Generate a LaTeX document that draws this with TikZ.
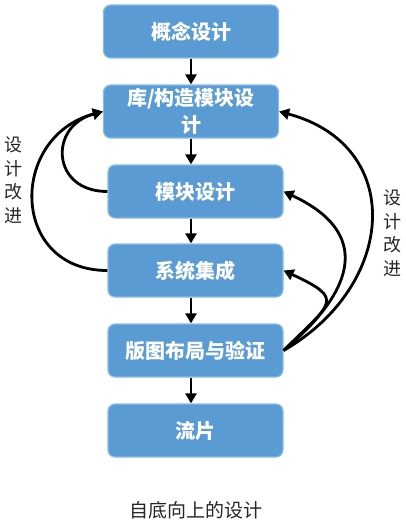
\documentclass[tikz,border=0pt]{standalone}
\usepackage{fontspec}
\setmainfont{Noto Sans CJK SC}
\usepackage{xcolor}
\usetikzlibrary{arrows.meta}
\definecolor{boxblue}{HTML}{5A9BD3}
\definecolor{boxedge}{HTML}{8CBCE6}

\begin{document}
\begin{tikzpicture}[x=1pt,y=1pt,
	blk/.style={draw=boxedge, line width=1.2pt, fill=boxblue, rounded corners=7pt,
		minimum width=175pt, minimum height=53pt, text=white, align=center,
		font=\fontsize{20}{27}\selectfont\bfseries},
	dn/.style={line width=2.8pt, -{Triangle[length=10pt,width=11pt]}},
	fb/.style={line width=2.8pt, -{Triangle[length=10pt,width=11pt]}},
	lbl/.style={align=center, text=black!85, font=\fontsize{18}{23.5}\selectfont}]
	\useasboundingbox (0,0) rectangle (405,-527);
	
	\node[blk] (concept) at (191,-31.5) {概念设计};
	\node[blk] (lib) at (191,-111.5) {库/构造模块设\\计};
	\node[blk] (module) at (195.5,-191.5) {模块设计};
	\node[blk] (system) at (195.5,-270.5) {系统集成};
	\node[blk] (layout) at (195.5,-350.5) {版图布局与验证};
	\node[blk] (tapeout) at (195.5,-430.5) {流片};
	
	\draw[dn] (concept.south) -- (lib.north);
	\draw[dn] (lib.south) -- (lib.south |- module.north);
	\draw[dn] (lib.south |- module.south) -- (lib.south |- system.north);
	\draw[dn] (lib.south |- system.south) -- (lib.south |- layout.north);
	\draw[dn] (lib.south |- layout.south) -- (lib.south |- tapeout.north);
	
	% left side
	\draw[fb] (module.west) to[out=180, in=195, looseness=1.8] (lib.west);
	\draw[fb] (system.west) to[out=180, in=195, looseness=1.57] (lib.west);
	\node[lbl] (lleft) at (14,-180) {设\\计\\改\\进};
	
	% right side
	\draw[fb] (layout.east) to[out=45, in=-25, looseness=2.2] (system.east);
	\draw[fb] (layout.east) to[out=40, in=-25, looseness=1.55] (module.east);
	\draw[fb] (layout.east) to[out=30, in=-15, looseness=1.4] (lib.east);
	\node[lbl] (lright) at (392,-233) {设\\计\\改\\进};
	
	\node[font=\fontsize{19}{23}\selectfont, text=black!85] (cap) at (196,-510) {自底向上的设计};
\end{tikzpicture}
\end{document}
